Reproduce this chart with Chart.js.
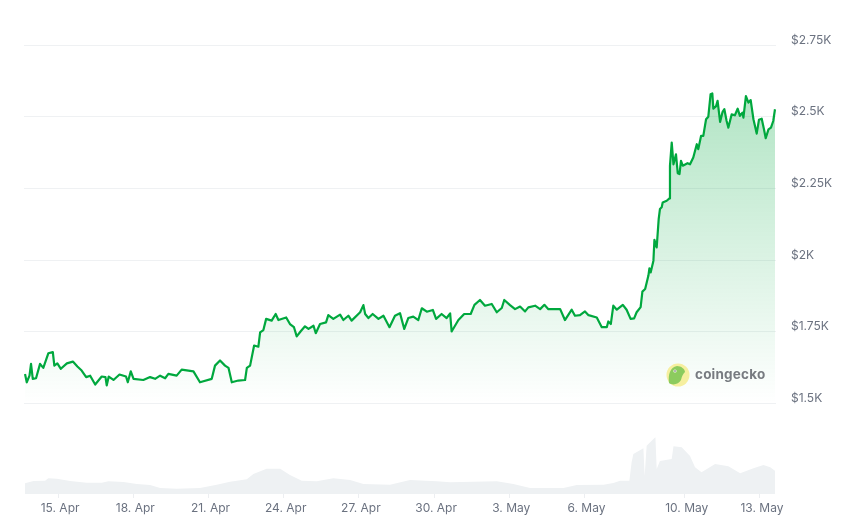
<!DOCTYPE html>
<html>
<head>
<meta charset="utf-8">
<script src="https://cdn.jsdelivr.net/npm/chart.js@4"></script>
<style>
  html, body { margin: 0; background: #fff; }
  #wrap { position: relative; width: 849px; height: 532px; overflow: hidden; }
  #logo { position: absolute; left: 666px; top: 363px; }
  #brand { position: absolute; left: 695px; top: 366px; font: 700 13.5px Inter, sans-serif; color: #777b80; letter-spacing: 0.2px; }
</style>
</head>
<body>
<div id="wrap">
  <canvas id="chart" width="849" height="532"></canvas>
  <svg id="logo" width="24" height="24" viewBox="0 0 24 24">
    <circle cx="12" cy="12" r="11.5" fill="#f6ef9f"/>
    <path d="M3 20 C2 12 4 4 11 3 C15 3 19 6 19 9 C17 11 16 13 15 17 C13 21 7 23 3 20 Z" fill="#8ccb5e"/>
    <circle cx="9" cy="8" r="1.6" fill="#fff"/>
    <circle cx="9" cy="8" r="0.8" fill="#555"/>
  </svg>
  <span id="brand">coingecko</span>
</div>
<script>
// Days are counted from 1 Apr, so 1 May is day 31
const priceDays = [
  13.68, 13.75, 13.86, 13.92, 13.99, 14.12, 14.28, 14.41, 14.61, 14.79, 14.85, 14.97, 15.11, 15.35, 15.59, 15.77,
  15.94, 16.12, 16.28, 16.48, 16.74, 16.89, 16.94, 17.02, 17.21, 17.45, 17.71, 17.78, 17.90, 18.01, 18.40, 18.67,
  18.87, 19.07, 19.27, 19.40, 19.73, 19.93, 20.40, 20.66, 21.13, 21.26, 21.46, 21.66, 21.80, 21.93, 22.19, 22.46,
  22.53, 22.66, 22.82, 22.99, 23.06, 23.19, 23.30, 23.52, 23.68, 23.79, 24.10, 24.25, 24.41, 24.52, 24.68, 24.85,
  24.99, 25.19, 25.28, 25.45, 25.69, 25.78, 25.98, 26.25, 26.38, 26.58, 26.71, 27.05, 27.18, 27.25, 27.38, 27.55,
  27.78, 27.98, 28.22, 28.44, 28.64, 28.81, 28.97, 29.17, 29.37, 29.51, 29.71, 29.95, 30.08, 30.30, 30.50, 30.64,
  30.70, 30.97, 31.20, 31.46, 31.61, 31.83, 32.03, 32.30, 32.50, 32.70, 32.80, 33.03, 33.23, 33.43, 33.63, 33.76,
  34.03, 34.23, 34.40, 34.56, 35.03, 35.22, 35.49, 35.62, 35.82, 36.02, 36.16, 36.49, 36.69, 36.89, 36.95, 37.05,
  37.15, 37.29, 37.53, 37.68, 37.84, 37.98, 38.08, 38.24, 38.31, 38.42, 38.55, 38.59, 38.64, 38.75, 38.79, 38.88,
  38.96, 39.01, 39.08, 39.12, 39.28, 39.39, 39.41, 39.48, 39.55, 39.65, 39.72, 39.79, 39.85, 39.92, 40.11, 40.21,
  40.34, 40.48, 40.54, 40.65, 40.74, 40.85, 40.94, 41.03, 41.10, 41.14, 41.25, 41.31, 41.41, 41.51, 41.58, 41.67,
  41.74, 41.87, 42.00, 42.11, 42.20, 42.30, 42.34, 42.44, 42.54, 42.63, 42.74, 42.87, 42.96, 43.07, 43.16, 43.23,
  43.34, 43.44, 43.53, 43.60
];
const prices = [
  1603, 1574, 1597, 1638, 1586, 1588, 1638, 1624, 1675, 1679, 1632, 1640, 1621, 1640, 1646, 1629,
  1615, 1592, 1597, 1566, 1594, 1592, 1563, 1594, 1582, 1601, 1594, 1574, 1612, 1586, 1582, 1592,
  1586, 1597, 1588, 1603, 1597, 1618, 1612, 1574, 1586, 1632, 1650, 1632, 1624, 1574, 1580, 1582,
  1624, 1632, 1702, 1698, 1748, 1756, 1795, 1789, 1812, 1791, 1800, 1777, 1766, 1734, 1752, 1769,
  1760, 1771, 1745, 1777, 1783, 1808, 1795, 1810, 1791, 1806, 1789, 1818, 1843, 1812, 1798, 1812,
  1795, 1806, 1766, 1806, 1815, 1760, 1798, 1803, 1791, 1832, 1820, 1826, 1795, 1812, 1798, 1814,
  1751, 1791, 1812, 1812, 1844, 1861, 1841, 1847, 1818, 1833, 1861, 1843, 1829, 1838, 1821, 1835,
  1841, 1829, 1844, 1829, 1829, 1791, 1827, 1806, 1808, 1821, 1808, 1800, 1766, 1766, 1786, 1777,
  1841, 1827, 1844, 1827, 1795, 1797, 1818, 1836, 1890, 1899, 1946, 1971, 1957, 1998, 2071, 2044,
  2143, 2178, 2184, 2201, 2207, 2215, 2329, 2410, 2334, 2369, 2303, 2300, 2346, 2329, 2338, 2334,
  2358, 2404, 2387, 2433, 2433, 2491, 2500, 2578, 2581, 2528, 2537, 2555, 2482, 2517, 2526, 2485,
  2462, 2508, 2505, 2528, 2503, 2514, 2497, 2572, 2549, 2558, 2491, 2441, 2489, 2493, 2456, 2425,
  2456, 2462, 2485, 2526
];

// Volume in $B
const volumeDays = [
  13.68, 14.02, 14.48, 14.61, 14.95, 15.48, 16.14, 16.74, 17.01, 17.61, 18.14, 18.67, 19.07, 19.73, 20.66, 21.33,
  21.86, 22.53, 22.79, 23.32, 23.86, 24.25, 24.72, 25.32, 25.98, 26.65, 27.18, 28.24, 29.04, 30.10, 30.64, 32.50,
  33.16, 33.83, 35.16, 35.69, 36.76, 37.15, 37.42, 37.79, 37.88, 37.95, 38.35, 38.40, 38.48, 38.75, 38.83, 38.88,
  39.01, 39.48, 39.55, 39.88, 40.21, 40.41, 40.67, 41.21, 41.74, 42.21, 42.74, 43.14, 43.41, 43.60
];
const volumes = [
  10.7, 13, 13.3, 15.7, 15.3, 13, 11.3, 11.3, 12.7, 12, 10, 9, 6, 5.3, 6, 9.3,
  12.3, 14.7, 20, 25.3, 25.3, 19, 13.3, 12.7, 15.7, 14, 10, 9.3, 14, 12.7, 11.7, 12.7,
  10, 6, 6, 9, 9.3, 11, 13.3, 13.3, 31.7, 40, 45.7, 18, 48.3, 55, 56.7, 25,
  33, 35, 47.7, 46.7, 38, 26.7, 21.7, 30, 27.7, 20.7, 25.7, 29, 26.7, 23.3
];

const xTickDays = [15, 18, 21, 24, 27, 30, 33, 36, 40, 43];
const xTickLabels = ['15. Apr', '18. Apr', '21. Apr', '24. Apr', '27. Apr', '30. Apr', '3. May', '6. May', '10. May', '13. May'];
const yTickValues = [1500, 1750, 2000, 2250, 2500, 2750];
const yTickLabels = ['$1.5K', '$1.75K', '$2K', '$2.25K', '$2.5K', '$2.75K'];

const labelFont = { family: 'Inter, sans-serif', size: 12 };
const labelColor = '#6b7280';

// Green fade from the top of the line down to the $1.5K gridline
function priceFill(context) {
  const { chart } = context;
  if (!chart.chartArea) return 'rgba(0,168,62,0.2)';
  const y = chart.scales.y;
  const gradient = chart.ctx.createLinearGradient(0, y.getPixelForValue(2581), 0, y.getPixelForValue(1500));
  gradient.addColorStop(0, 'rgba(0,168,62,0.30)');
  gradient.addColorStop(1, 'rgba(0,168,62,0)');
  return gradient;
}

new Chart(document.getElementById('chart'), {
  type: 'line',
  data: {
    datasets: [
      {
        data: priceDays.map((d, i) => ({ x: d, y: prices[i] })),
        yAxisID: 'y',
        borderColor: '#00a83e',
        borderWidth: 2.2,
        borderJoinStyle: 'round',
        backgroundColor: priceFill,
        fill: { value: 1500 },
        pointRadius: 0,
        tension: 0
      },
      {
        data: volumeDays.map((d, i) => ({ x: d, y: volumes[i] })),
        yAxisID: 'yVolume',
        borderWidth: 0,
        backgroundColor: '#eef1f3',
        fill: 'origin',
        pointRadius: 0,
        tension: 0
      }
    ]
  },
  options: {
    responsive: false,
    animation: false,
    events: [],
    layout: { padding: { left: 24, top: 45 } },
    plugins: { legend: { display: false }, tooltip: { enabled: false } },
    scales: {
      x: {
        type: 'linear',
        min: 13.64,
        max: 43.64,
        afterBuildTicks: axis => { axis.ticks = xTickDays.map(value => ({ value })); },
        afterFit: axis => { axis.height = 38; },
        grid: { drawOnChartArea: false, color: '#eceef1', tickLength: 4 },
        border: { display: false },
        ticks: {
          autoSkip: false,
          maxRotation: 0,
          padding: 3,
          labelOffset: 2,
          font: labelFont,
          color: labelColor,
          callback: value => xTickLabels[xTickDays.indexOf(value)]
        }
      },
      y: {
        position: 'right',
        min: 1184.4,
        max: 2750,
        afterBuildTicks: axis => { axis.ticks = yTickValues.map(value => ({ value })); },
        afterFit: axis => { axis.width = 73; },
        grid: { color: '#eff1f3', drawTicks: false },
        border: { display: false },
        ticks: {
          padding: 15,
          labelOffset: -5,
          font: labelFont,
          color: labelColor,
          callback: value => yTickLabels[yTickValues.indexOf(value)]
        }
      },
      // hidden scale that keeps volume in the band under the price
      yVolume: { display: false, min: 0, max: 449 }
    }
  }
});
</script>
</body>
</html>
